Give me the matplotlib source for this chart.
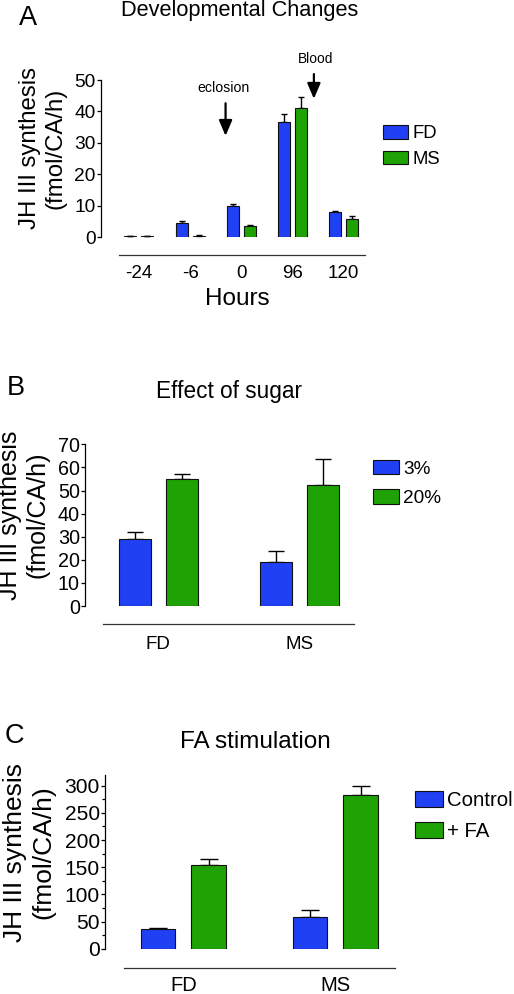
import matplotlib
matplotlib.use('Agg')
import matplotlib.pyplot as plt
import numpy as np
from matplotlib.patches import Patch
from matplotlib.ticker import MultipleLocator

plt.rcParams['font.family'] = ['Liberation Sans', 'DejaVu Sans']

# ---------------- data ----------------
hours = ['-24', '-6', '0', '96', '120']
a_fd = [0.2, 4.5, 9.8, 36.7, 7.9]
a_fd_err = [0.0, 0.7, 0.8, 2.5, 0.3]
a_ms = [0.2, 0.3, 3.5, 41.2, 5.8]
a_ms_err = [0.0, 0.2, 0.3, 3.5, 0.8]

sugar_groups = ['FD', 'MS']
b_3 = [29.1, 19.0]
b_3_err = [2.8, 4.7]
b_20 = [55.1, 52.2]
b_20_err = [2.0, 11.4]

fa_groups = ['FD', 'MS']
c_ctrl = [36.2, 58.3]
c_ctrl_err = [2.4, 12.9]
c_fa = [153.4, 282.2]
c_fa_err = [11.6, 17.8]

BLUE = '#2040f4'
GREEN = '#1ea204'

W, H, DPI = 514, 994, 100
fig = plt.figure(figsize=(W / DPI, H / DPI), dpi=DPI, facecolor='white')
PT = 72.0 / DPI  # points per pixel


def ax_px(x0, yb, x1, yt):
    return fig.add_axes([x0 / W, 1 - yb / H, (x1 - x0) / W, (yb - yt) / H])


def style(ax, xb, offset_px, ytick_fs, xtick_fs, xpad_px):
    for s in ['top', 'right']:
        ax.spines[s].set_visible(False)
    ax.spines['left'].set_linewidth(0.9)
    ax.spines['bottom'].set_linewidth(0.9)
    ax.spines['bottom'].set_color('#333333')
    ax.spines['bottom'].set_position(('outward', offset_px * PT))
    ax.spines['bottom'].set_bounds(*xb)
    ax.tick_params(axis='y', direction='out', length=2.9, width=0.9,
                   pad=0.8, labelsize=ytick_fs)
    ax.tick_params(axis='y', which='minor', direction='out', length=2.2, width=0.9)
    ax.tick_params(axis='x', length=0, pad=xpad_px * PT, labelsize=xtick_fs)
    ax.set_facecolor('none')


def bars(ax, n, v1, e1, v2, e2, width, off, cap_pt):
    x = np.arange(n)
    ax.bar(x - off, v1, width, color=BLUE, edgecolor='#111111', linewidth=0.8, zorder=3)
    ax.bar(x + off, v2, width, color=GREEN, edgecolor='#111111', linewidth=0.8, zorder=3)
    ax.errorbar(x - off, v1, yerr=[np.zeros(n), e1], fmt='none', ecolor='black',
                elinewidth=1.0, capsize=cap_pt, capthick=1.0, zorder=2)
    ax.errorbar(x + off, v2, yerr=[np.zeros(n), e2], fmt='none', ecolor='black',
                elinewidth=1.0, capsize=cap_pt, capthick=1.0, zorder=2)
    return x


def legend(ax, labels, x_px, y_px, fs_pt, hl_px, hh_px, spacing):
    fs_px = fs_pt / PT
    handles = [Patch(facecolor=BLUE, edgecolor='#111111', linewidth=0.8, label=labels[0]),
               Patch(facecolor=GREEN, edgecolor='#111111', linewidth=0.8, label=labels[1])]
    ax.legend(handles=handles, loc='upper left', bbox_to_anchor=(x_px / W, 1 - y_px / H),
              bbox_transform=fig.transFigure, frameon=False, borderpad=0,
              borderaxespad=0, fontsize=fs_pt, handlelength=hl_px / fs_px,
              handleheight=hh_px / fs_px, handletextpad=4 / fs_px,
              labelspacing=spacing)


# ---------------- Panel A ----------------
axA = ax_px(101, 237, 101 + 5.34 * 51.2, 80)
xA = bars(axA, len(hours), a_fd, a_fd_err, a_ms, a_ms_err, 0.234, 0.166, 2.2)
axA.set_xlim(-0.74, 4.6)
axA.set_ylim(0, 50)
axA.yaxis.set_major_locator(MultipleLocator(10))
axA.set_xticks(xA)
axA.set_xticklabels(hours)
style(axA, (-0.39, 4.41), 18, 13.8, 13.5, 10)
axA.set_xlabel('Hours', fontsize=17.5, labelpad=4.5)
legend(axA, ['FD', 'MS'], 383, 125, 13.3, 25, 14, 0.46)

arrow_kw = dict(arrowstyle='-|>,head_length=0.94,head_width=0.4', color='black',
                lw=1.6, shrinkA=0, shrinkB=0, mutation_scale=10)
axA.annotate('', xy=(1.693, 32.2), xytext=(1.693, 42.6), arrowprops=arrow_kw,
             annotation_clip=False)
axA.text(1.65, 46.3, 'eclosion', ha='center', va='baseline', fontsize=10.2, clip_on=False)
axA.annotate('', xy=(3.418, 44.0), xytext=(3.418, 51.9), arrowprops=arrow_kw,
             annotation_clip=False)
axA.text(3.45, 55.3, 'Blood', ha='center', va='baseline', fontsize=9.9, clip_on=False)

fig.text(240 / W, 1 - 16 / H, 'Developmental Changes', ha='center', va='baseline',
         fontsize=15.7)
fig.text(19 / W, 1 - 25 / H, 'A', ha='left', va='baseline', fontsize=19.5)
fig.text(42.5 / W, 1 - 148 / H, 'JH III synthesis\n(fmol/CA/h)', rotation=90,
         ha='center', va='center', fontsize=17.3, multialignment='center')

# ---------------- Panel B ----------------
axB = ax_px(85, 606, 85 + 2.12 * 141, 444.3)
xB = bars(axB, len(sugar_groups), b_3, b_3_err, b_20, b_20_err, 0.227, 0.167, 6.1)
axB.set_xlim(-0.52, 1.6)
axB.set_ylim(0, 70)
axB.yaxis.set_major_locator(MultipleLocator(10))
axB.set_xticks(xB)
axB.set_xticklabels(sugar_groups)
style(axB, (-0.39, 1.39), 18.3, 14.2, 13.5, 11.7)
legend(axB, ['3%', '20%'], 373, 460, 13.7, 26, 15, 0.6)

fig.text(229 / W, 1 - 398.3 / H, 'Effect of sugar', ha='center', va='baseline',
         fontsize=16.3)
fig.text(6.7 / W, 1 - 395 / H, 'B', ha='left', va='baseline', fontsize=19.5)
fig.text(24 / W, 1 - 515 / H, 'JH III synthesis\n(fmol/CA/h)', rotation=90,
         ha='center', va='center', fontsize=18, multialignment='center')

# ---------------- Panel C ----------------
axC = ax_px(105, 948.7, 105 + 2.116 * 152, 948.7 - 320 * 0.5433)
xC = bars(axC, len(fa_groups), c_ctrl, c_ctrl_err, c_fa, c_fa_err, 0.227, 0.166, 6.5)
axC.set_xlim(-0.516, 1.6)
axC.set_ylim(0, 320)
axC.yaxis.set_major_locator(MultipleLocator(50))
axC.yaxis.set_minor_locator(MultipleLocator(25))
axC.set_xticks(xC)
axC.set_xticklabels(fa_groups)
style(axC, (-0.39, 1.39), 19.6, 15.1, 14.5, 7.5)
legend(axC, ['Control', '+ FA'], 415, 791, 14.7, 28, 16, 0.6)

fig.text(255 / W, 1 - 748.3 / H, 'FA stimulation', ha='center', va='baseline',
         fontsize=17.5)
fig.text(5 / W, 1 - 743.3 / H, 'C', ha='left', va='baseline', fontsize=19.5)
fig.text(29 / W, 1 - 852 / H, 'JH III synthesis\n(fmol/CA/h)', rotation=90,
         ha='center', va='center', fontsize=19, multialignment='center')

fig.savefig('out.png', dpi=DPI, facecolor='white')
